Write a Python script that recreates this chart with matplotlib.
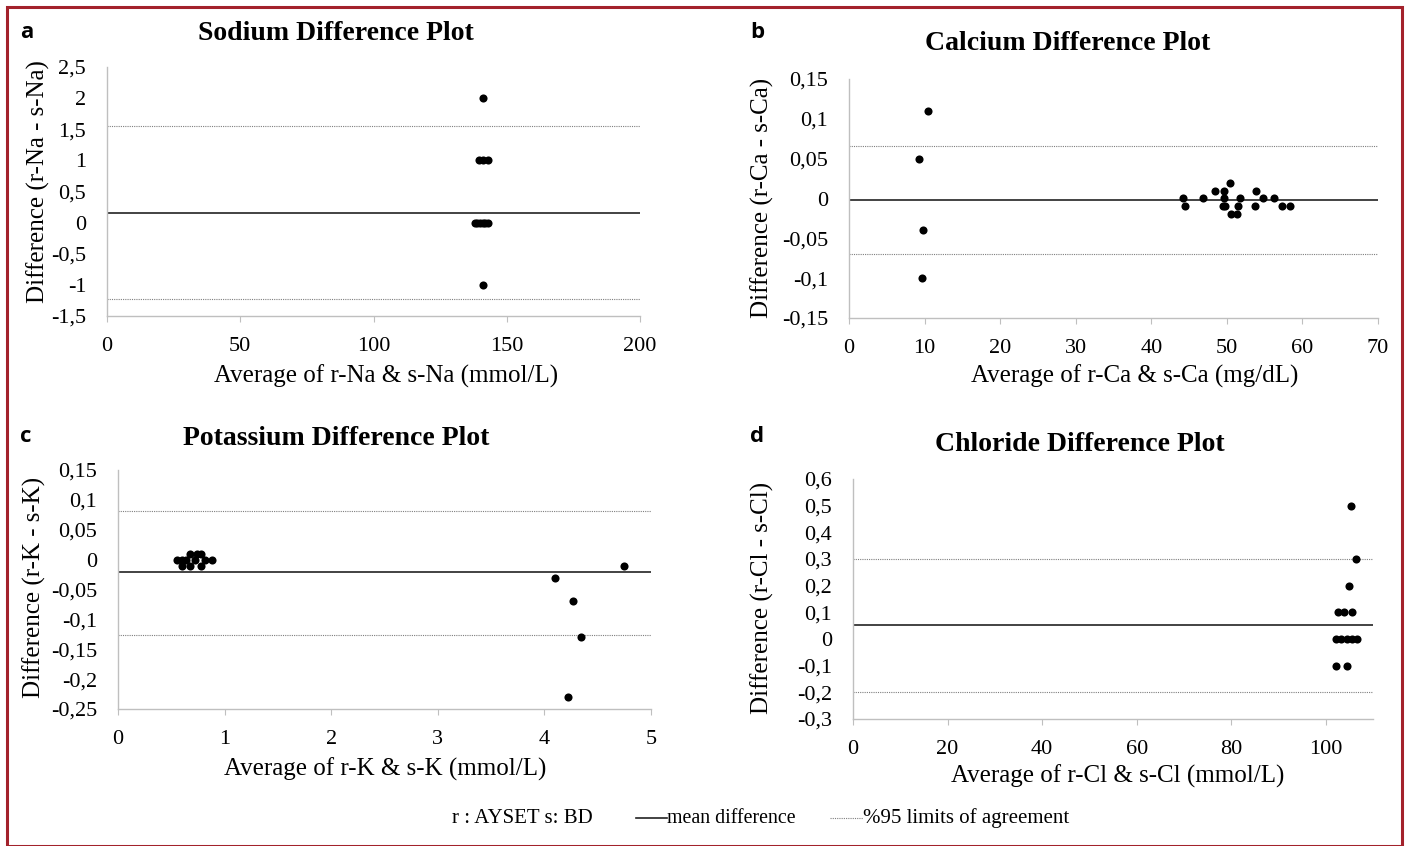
import matplotlib
matplotlib.use("Agg")
import matplotlib.pyplot as plt
from matplotlib.patches import Rectangle
from matplotlib.lines import Line2D

# ---------------- data ----------------
# Sodium
na_avg = [141, 139.5, 141.2, 143, 138, 139, 140, 141, 142, 143, 141]
na_diff = [2, 1, 1, 1, 0, 0, 0, 0, 0, 0, -1]
na_mean, na_upper, na_lower = 0.16, 1.55, -1.23
na_yticks = [2.5, 2, 1.5, 1, 0.5, 0, -0.5, -1, -1.5]
na_yticklabels = ["2,5", "2", "1,5", "1", "0,5", "0", "-0,5", "-1", "-1,5"]
na_xticks = [0, 50, 100, 150, 200]

# Calcium
ca_avg = [10.5, 9.3, 9.8, 9.7,
          44.2, 44.5, 46.8, 48.4, 49.6, 50.4, 49.6, 49.5, 49.8, 51.7, 51.5,
          50.5, 51.3, 53.9, 54.8, 53.7, 56.3, 57.3, 58.3]
ca_diff = [0.11, 0.05, -0.04, -0.10,
           0, -0.01, 0, 0.01, 0.01, 0.02, 0, -0.01, -0.01, 0, -0.01,
           -0.02, -0.02, 0.01, 0, -0.01, 0, -0.01, -0.01]
ca_mean, ca_upper, ca_lower = -0.002, 0.066, -0.070
ca_yticks = [0.15, 0.1, 0.05, 0, -0.05, -0.1, -0.15]
ca_yticklabels = ["0,15", "0,1", "0,05", "0", "-0,05", "-0,1", "-0,15"]
ca_xticks = [0, 10, 20, 30, 40, 50, 60, 70]

# Potassium
k_avg = [0.68, 0.74, 0.78, 0.55, 0.60, 0.64, 0.72, 0.82, 0.88, 0.60, 0.68, 0.78,
         4.75, 4.10, 4.27, 4.34, 4.22]
k_diff = [0.01, 0.01, 0.01, 0, 0, 0, 0, 0, 0, -0.01, -0.01, -0.01,
          -0.01, -0.03, -0.07, -0.13, -0.23]
k_mean, k_upper, k_lower = -0.021, 0.081, -0.126
k_yticks = [0.15, 0.1, 0.05, 0, -0.05, -0.1, -0.15, -0.2, -0.25]
k_yticklabels = ["0,15", "0,1", "0,05", "0", "-0,05", "-0,1", "-0,15", "-0,2", "-0,25"]
k_xticks = [0, 1, 2, 3, 4, 5]

# Chloride
cl_avg = [105.4, 106.5, 104.9, 102.6, 103.8, 105.6,
          102.2, 103.3, 104.4, 105.5, 106.6, 102.2, 104.4]
cl_diff = [0.5, 0.3, 0.2, 0.1, 0.1, 0.1, 0, 0, 0, 0, 0, -0.1, -0.1]
cl_mean, cl_upper, cl_lower = 0.052, 0.30, -0.20
cl_yticks = [0.6, 0.5, 0.4, 0.3, 0.2, 0.1, 0, -0.1, -0.2, -0.3]
cl_yticklabels = ["0,6", "0,5", "0,4", "0,3", "0,2", "0,1", "0", "-0,1", "-0,2", "-0,3"]
cl_xticks = [0, 20, 40, 60, 80, 100]

# ---------------- figure ----------------
W, H = 1409, 846
fig = plt.figure(figsize=(W / 100, H / 100), dpi=100)
fig.patch.set_facecolor("white")

SERIF = "Liberation Serif"
SPINE = "#bfbfbf"


def rect(l, r, t, b):
    return [l / W, 1 - b / H, (r - l) / W, (b - t) / H]


def panel(box, x, y, mean, up, lo, xlim, ylim, xticks, yticks, yticklabels,
          title, title_xy, xlabel, xlabel_xy, ylabel, ylabel_xy, letter, letter_xy):
    ax = fig.add_axes(rect(*box))
    ax.set_xlim(*xlim)
    ax.set_ylim(*ylim)
    ax.axhline(up, color="#7f7f7f", lw=0.8, ls=(0, (1, 1)), zorder=1)
    ax.axhline(lo, color="#7f7f7f", lw=0.8, ls=(0, (1, 1)), zorder=1)
    ax.axhline(mean, color="#222222", lw=1.2, zorder=1)
    ax.scatter(x, y, s=34, color="black", zorder=3, linewidths=0)
    for s in ["top", "right"]:
        ax.spines[s].set_visible(False)
    for s in ["left", "bottom"]:
        ax.spines[s].set_color(SPINE)
        ax.spines[s].set_linewidth(1.0)
    ax.set_xticks(xticks)
    ax.set_xticklabels([str(v) for v in xticks])
    ax.set_yticks(yticks)
    ax.set_yticklabels(yticklabels)
    ax.tick_params(axis="x", direction="out", length=4, color=SPINE, pad=11,
                   labelsize=16)
    ax.tick_params(axis="y", length=0, pad=15, labelsize=16)
    for lab in ax.get_xticklabels() + ax.get_yticklabels():
        lab.set_fontfamily(SERIF)
    fig.text(title_xy[0] / W, 1 - title_xy[1] / H, title, family=SERIF,
             fontsize=20, fontweight="bold", ha="center", va="center")
    fig.text(xlabel_xy[0] / W, 1 - xlabel_xy[1] / H, xlabel, family=SERIF,
             fontsize=18, ha="center", va="center")
    fig.text(ylabel_xy[0] / W, 1 - ylabel_xy[1] / H, ylabel, family=SERIF,
             fontsize=18, ha="center", va="center", rotation=90)
    fig.text(letter_xy[0] / W, 1 - letter_xy[1] / H, letter, family="Open Sans",
             fontsize=16, fontweight="bold", ha="left", va="center")
    return ax


panel((107, 640, 67, 316), na_avg, na_diff, na_mean, na_upper, na_lower,
      (0, 200), (-1.5, 2.5), na_xticks, na_yticks, na_yticklabels,
      "Sodium Difference Plot", (336, 33),
      "Average of r-Na & s-Na (mmol/L)", (386, 376),
      "Difference (r-Na - s-Na)", (38, 182), "a", (20, 32))

panel((849, 1378, 79, 318), ca_avg, ca_diff, ca_mean, ca_upper, ca_lower,
      (0, 70), (-0.15, 0.15), ca_xticks, ca_yticks, ca_yticklabels,
      "Calcium Difference Plot", (1068, 44),
      "Average of r-Ca & s-Ca (mg/dL)", (1135, 376),
      "Difference (r-Ca - s-Ca)", (762, 198), "b", (750, 32))

panel((118, 651, 470, 709), k_avg, k_diff, k_mean, k_upper, k_lower,
      (0, 5), (-0.25, 0.15), k_xticks, k_yticks, k_yticklabels,
      "Potassium Difference Plot", (336, 438),
      "Average of r-K & s-K (mmol/L)", (385, 769),
      "Difference (r-K - s-K)", (34, 587), "c", (20, 436))

panel((853, 1373, 479, 719), cl_avg, cl_diff, cl_mean, cl_upper, cl_lower,
      (0, 110), (-0.3, 0.6), cl_xticks, cl_yticks, cl_yticklabels,
      "Chloride Difference Plot", (1080, 444),
      "Average of r-Cl & s-Cl (mmol/L)", (1118, 776),
      "Difference (r-Cl - s-Cl)", (762, 598), "d", (750, 436))

# ---------------- bottom legend ----------------
ly = 1 - 818 / H
fig.text(452 / W, ly, "r : AYSET s: BD", family=SERIF, fontsize=15,
         ha="left", va="center")
fig.add_artist(Line2D([636 / W, 667 / W], [ly, ly], color="#222222", lw=1.2))
fig.text(667 / W, ly, "mean difference", family=SERIF, fontsize=14.3,
         ha="left", va="center")
fig.add_artist(Line2D([830 / W, 863 / W], [ly, ly], color="#7f7f7f", lw=0.8,
                      ls=(0, (1, 1))))
fig.text(863 / W, ly, "%95 limits of agreement", family=SERIF, fontsize=15,
         ha="left", va="center")

# ---------------- border ----------------
fig.add_artist(Rectangle((7 / W, 0), (1402 - 7) / W, 1 - 7 / H,
                         transform=fig.transFigure, fill=False,
                         edgecolor="#a3222b", lw=2.2))

fig.savefig("out.png", dpi=100, facecolor="white")
